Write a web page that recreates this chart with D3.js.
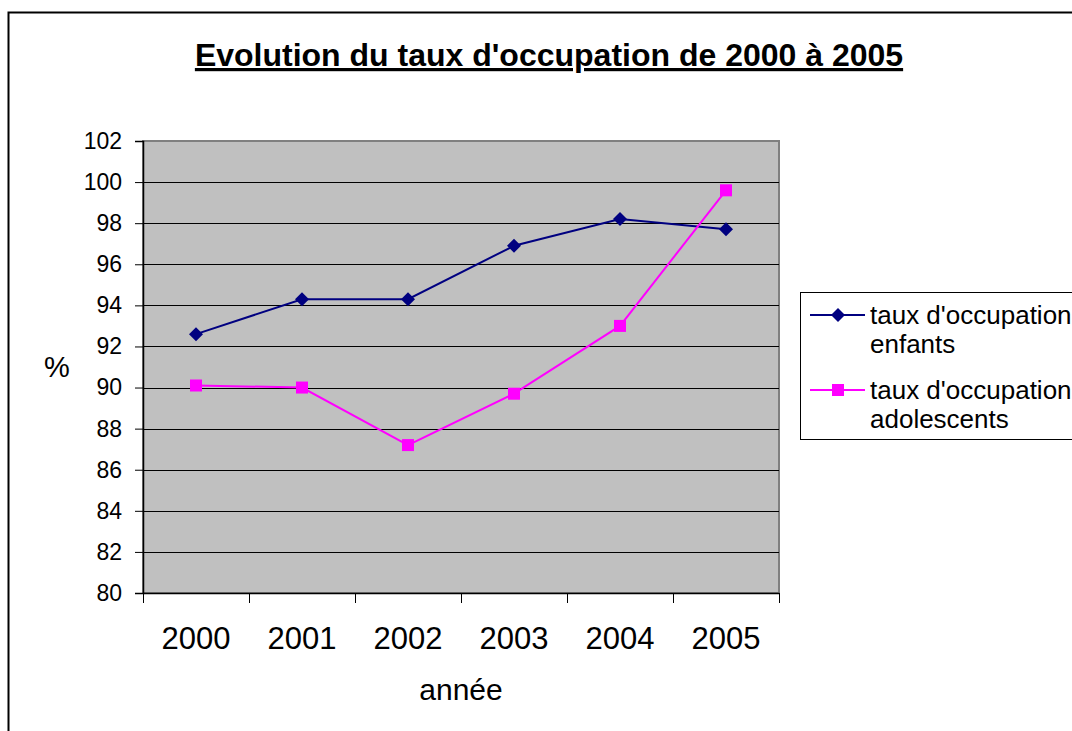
<!DOCTYPE html>
<html>
<head>
<meta charset="utf-8">
<script src="https://cdn.jsdelivr.net/npm/d3@7"></script>
<style>
  body { margin: 0; background: #fff; }
  svg { display: block; font-family: "Liberation Sans", Arial, sans-serif; }
</style>
</head>
<body>
<div id="chart"></div>
<script>
// data
var years = ['2000', '2001', '2002', '2003', '2004', '2005'];
var enfants = [92.6, 94.3, 94.3, 96.9, 98.2, 97.7];
var adolescents = [90.1, 90.0, 87.2, 89.7, 93.0, 99.6];
var yTicks = [80, 82, 84, 86, 88, 90, 92, 94, 96, 98, 100, 102];
var seriesNames = [["taux d'occupation", "enfants"], ["taux d'occupation", "adolescents"]];

var width = 1072, height = 731;

var margin = { top: 141, left: 143, right: 293, bottom: 138 };
var plotW = width - margin.left - margin.right;
var plotH = height - margin.top - margin.bottom;

var svg = d3.select('#chart')
    .append('svg')
    .attr('width', width)
    .attr('height', height);

// outer frame (runs off the page right and bottom)
svg.append('rect')
    .attr('x', 8.5).attr('y', 12.5)
    .attr('width', 1100).attr('height', 800)
    .attr('fill', 'none')
    .attr('stroke', '#000')
    .attr('stroke-width', 2);

// title
svg.append('text')
    .attr('x', 549).attr('y', 66)
    .attr('text-anchor', 'middle')
    .attr('font-size', 32)
    .attr('font-weight', 'bold')
    .attr('text-decoration', 'underline')
    .text("Evolution du taux d'occupation de 2000 à 2005");

var g = svg.append('g')
    .attr('transform', 'translate(' + margin.left + ',' + margin.top + ')');

var x = d3.scaleBand()
    .domain(years)
    .range([0, plotW]);

var y = d3.scaleLinear()
    .domain([80, 102])
    .range([plotH, 0]);

// plot background
g.append('rect')
    .attr('width', plotW).attr('height', plotH)
    .attr('fill', '#c0c0c0')
    .attr('stroke', '#808080')
    .attr('stroke-width', 2);

// gridlines
g.selectAll('.grid')
    .data(yTicks.slice(1, -1))
    .enter()
    .append('line')
    .attr('x1', 0).attr('x2', plotW)
    .attr('y1', function(d) { return Math.round(y(d)) + 0.5; })
    .attr('y2', function(d) { return Math.round(y(d)) + 0.5; })
    .attr('stroke', '#000')
    .attr('stroke-width', 1);

// y axis
var yAxis = d3.axisLeft(y)
    .tickValues(yTicks)
    .tickSize(8)
    .tickPadding(13);

var yG = g.append('g').call(yAxis);
yG.select('.domain').attr('stroke', '#000').attr('stroke-width', 1.5);
yG.selectAll('.tick line').attr('stroke', '#000');
yG.selectAll('.tick text')
    .attr('font-size', 23)
    .attr('font-family', '"Liberation Sans", Arial, sans-serif')
    .attr('fill', '#000');

// x axis: labels centred in bands, tick marks on band edges
var xAxis = d3.axisBottom(x).tickSize(0).tickPadding(0);
var xG = g.append('g')
    .attr('transform', 'translate(0,' + plotH + ')')
    .call(xAxis);
xG.select('.domain').attr('stroke', '#000').attr('stroke-width', 1.5);
xG.selectAll('.tick text')
    .attr('font-size', 31)
    .attr('font-family', '"Liberation Sans", Arial, sans-serif')
    .attr('fill', '#000')
    .attr('dy', null)
    .attr('y', 56);

var edges = years.map(function(d) { return x(d); }).concat([plotW]);
xG.selectAll('.edge')
    .data(edges)
    .enter()
    .append('line')
    .attr('x1', function(d) { return Math.round(d) + 0.5; })
    .attr('x2', function(d) { return Math.round(d) + 0.5; })
    .attr('y1', 0).attr('y2', 10)
    .attr('stroke', '#000');

// axis titles
svg.append('text')
    .attr('x', 461).attr('y', 700)
    .attr('text-anchor', 'middle')
    .attr('font-size', 30)
    .text('année');

svg.append('text')
    .attr('x', 57).attr('y', 377)
    .attr('text-anchor', 'middle')
    .attr('font-size', 29)
    .text('%');

// lines
var cx = function(i) { return x(years[i]) + x.bandwidth() / 2; };

var line = d3.line()
    .x(function(d, i) { return cx(i); })
    .y(function(d) { return y(d); });

g.append('path')
    .datum(enfants)
    .attr('d', line)
    .attr('fill', 'none')
    .attr('stroke', '#000080')
    .attr('stroke-width', 2);

g.append('path')
    .datum(adolescents)
    .attr('d', line)
    .attr('fill', 'none')
    .attr('stroke', '#ff00ff')
    .attr('stroke-width', 2);

var diamond = 'M0,-7L7,0L0,7L-7,0Z';

g.selectAll('.dia')
    .data(enfants)
    .enter()
    .append('path')
    .attr('d', diamond)
    .attr('transform', function(d, i) { return 'translate(' + cx(i) + ',' + y(d) + ')'; })
    .attr('fill', '#000080');

g.selectAll('.sq')
    .data(adolescents)
    .enter()
    .append('rect')
    .attr('x', function(d, i) { return cx(i) - 6; })
    .attr('y', function(d) { return y(d) - 6; })
    .attr('width', 12).attr('height', 12)
    .attr('fill', '#ff00ff');

// legend
var legend = svg.append('g');

legend.append('rect')
    .attr('x', 800.5).attr('y', 292.5)
    .attr('width', 300).attr('height', 147)
    .attr('fill', '#fff')
    .attr('stroke', '#000')
    .attr('stroke-width', 1);

var legColors = ['#000080', '#ff00ff'];
var legY = [315, 390];

legY.forEach(function(ly, i) {
    legend.append('line')
        .attr('x1', 810).attr('x2', 865)
        .attr('y1', ly).attr('y2', ly)
        .attr('stroke', legColors[i])
        .attr('stroke-width', 2);
    if (i === 0) {
        legend.append('path')
            .attr('d', diamond)
            .attr('transform', 'translate(838,' + ly + ')')
            .attr('fill', legColors[i]);
    } else {
        legend.append('rect')
            .attr('x', 832).attr('y', ly - 6)
            .attr('width', 12).attr('height', 12)
            .attr('fill', legColors[i]);
    }
    legend.append('text')
        .attr('x', 870).attr('y', ly + 9)
        .attr('font-size', 26)
        .text(seriesNames[i][0]);
    legend.append('text')
        .attr('x', 870).attr('y', ly + 38)
        .attr('font-size', 26)
        .text(seriesNames[i][1]);
});
</script>
</body>
</html>
